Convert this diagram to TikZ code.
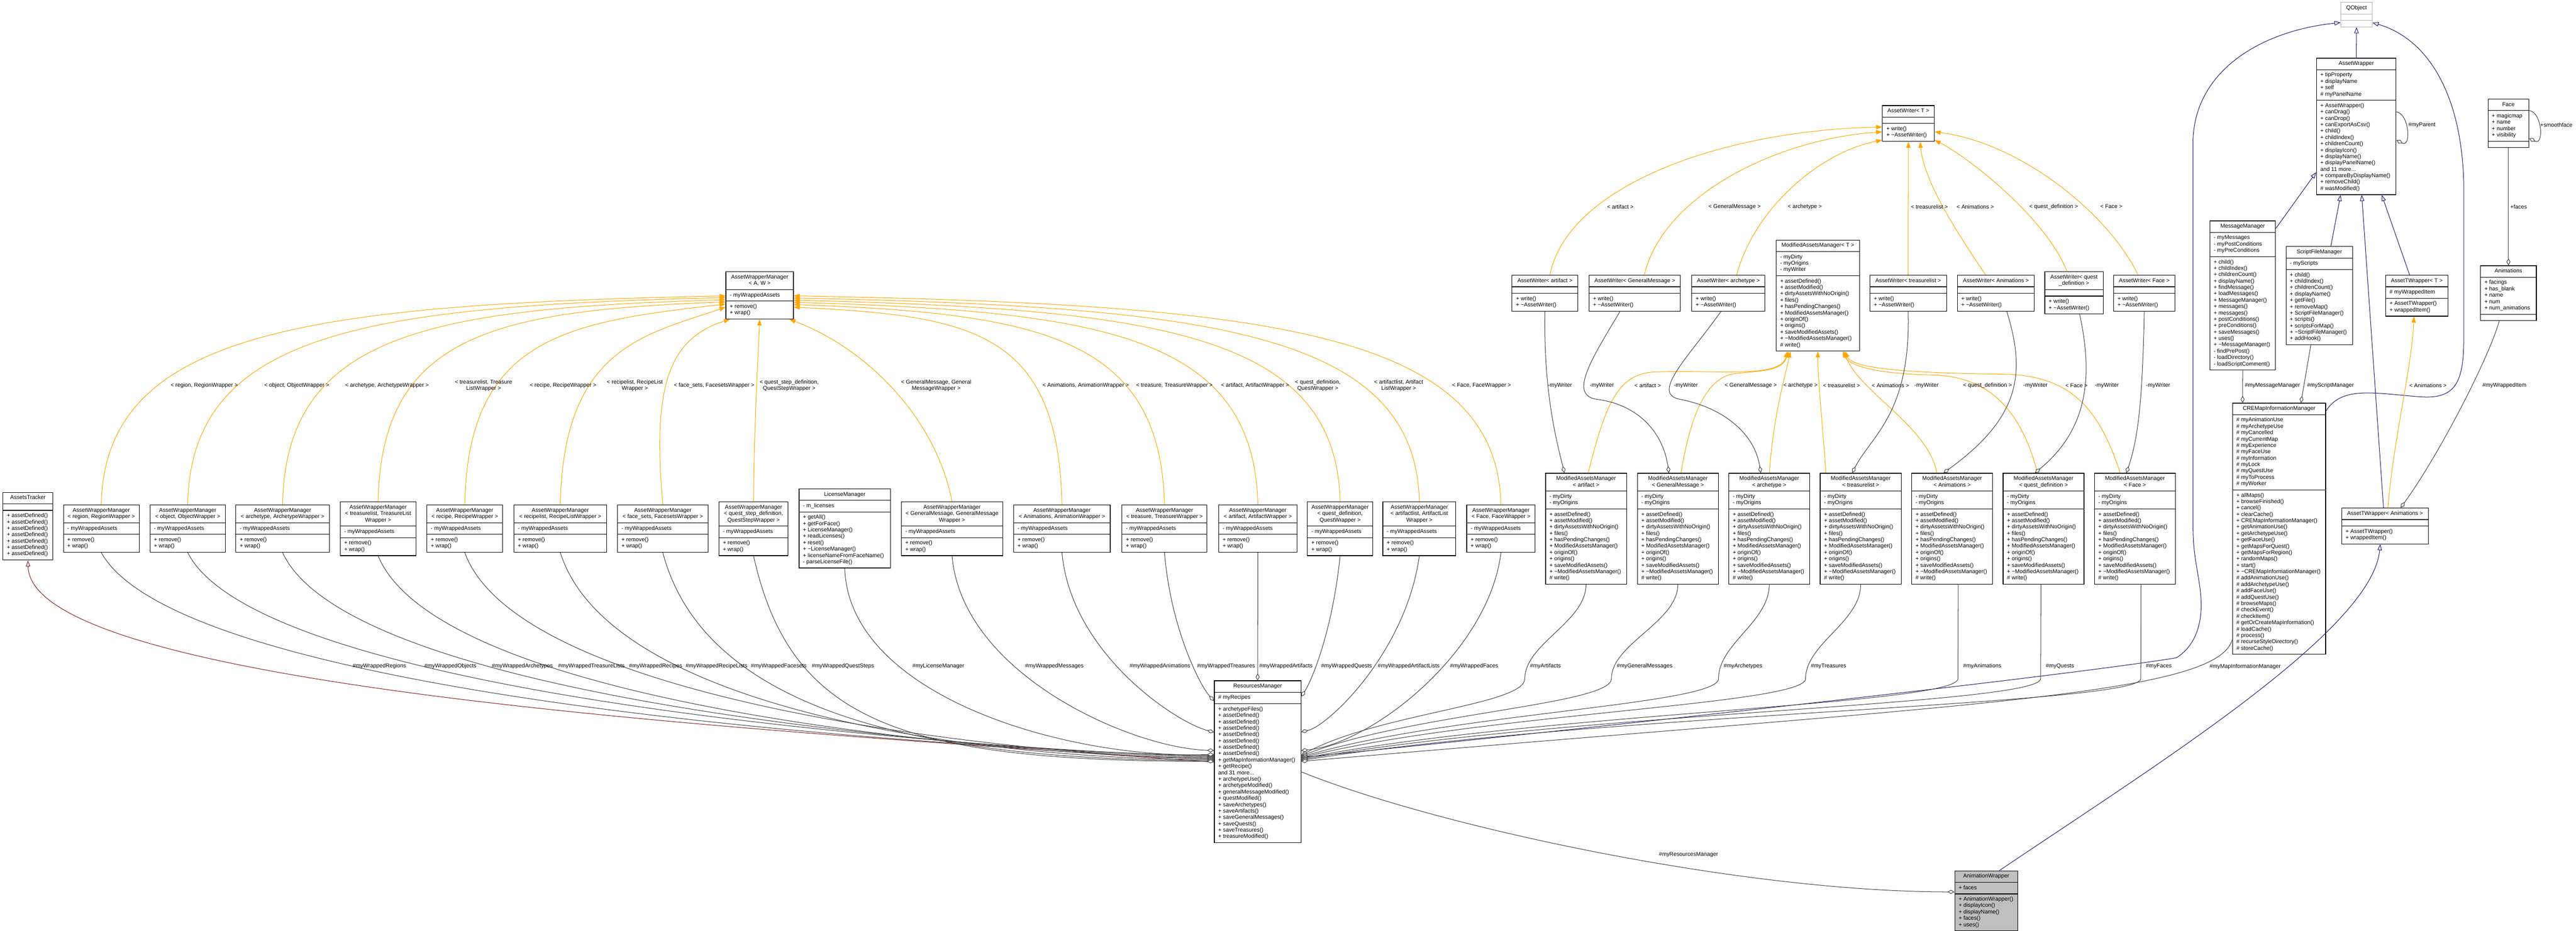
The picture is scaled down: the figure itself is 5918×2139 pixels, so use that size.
\documentclass[tikz,border=0pt]{standalone}
\usepackage{fontspec}
\setmainfont{Liberation Sans}
\usetikzlibrary{shapes.multipart,arrows.meta}

\definecolor{edgegray}{HTML}{404040}
\definecolor{tplorange}{HTML}{FFA500}
\definecolor{inhblue}{HTML}{191970}
\definecolor{privred}{HTML}{8B1A1A}

\newcommand{\tld}{\textasciitilde}
\newcommand{\awmops}{+ remove()\\+ wrap()}
\newcommand{\writerops}{+ write()\\+ \tld AssetWriter()}
\newcommand{\mamops}{+ assetDefined()\\+ assetModified()\\+ dirtyAssetsWithNoOrigin()\\+ files()\\+ hasPendingChanges()\\+ ModifiedAssetsManager()\\+ originOf()\\+ origins()\\+ saveModifiedAssets()\\+ \tld ModifiedAssetsManager()\\\# write()}
\newcommand{\umlclass}[6][]{%
  \node[classbox,#1] (#2) at (#3)
    {\begin{tabular}{@{}c@{}}#4\end{tabular}%
     \nodepart{second}\begin{tabular}{@{}l@{}}#5\end{tabular}%
     \nodepart{third}\begin{tabular}{@{}l@{}}#6\end{tabular}};}

\tikzset{
  classbox/.style={rectangle split, rectangle split parts=3,
    rectangle split part align={center,left,left},
    draw=black, line width=1.4pt, fill=white, anchor=north west,
    inner xsep=9pt, inner ysep=5.2pt,
    font=\fontsize{12.8}{14.65}\selectfont},
  lbl/.style={font=\fontsize{12.8}{14.3}\selectfont, inner sep=0pt, anchor=west, align=center},
  aggr/.style={draw=edgegray, line width=1.2pt, -{Diamond[length=16pt,width=9pt,fill=white]}},
  inherit/.style={draw=inhblue, line width=1.2pt, -{Triangle[length=14pt,width=10pt,fill=white]}},
  privinherit/.style={draw=privred, line width=1.2pt, -{Triangle[length=14pt,width=10pt,fill=white]}},
  tmpl/.style={draw=tplorange, line width=1.2pt, -{Triangle[length=14pt,width=10pt]}},
}

\begin{document}
\begin{tikzpicture}[x=1pt,y=-1pt]
\useasboundingbox (0,0) rectangle (5918,2139);
\fill[white] (0,0) rectangle (5918,2139);

% Qt side
\umlclass[minimum width=72pt, draw=black!30]{qobject}{5377,5}{QObject}{}{}
\umlclass[minimum width=183pt]{assetWrapper}{5321,133}{AssetWrapper}{+ tipProperty\\+ displayName\\+ self\\\# myPanelName}{+ AssetWrapper()\\+ canDrag()\\+ canDrop()\\+ canExportAsCsv()\\+ child()\\+ childIndex()\\+ childrenCount()\\+ displayIcon()\\+ displayName()\\+ displayPanelName()\\and 11 more...\\+ compareByDisplayName()\\+ removeChild()\\\# wasModified()}
\umlclass[minimum width=94pt]{face}{5715,227}{Face}{+ magicmap\\+ name\\+ number\\+ visibility}{}
\umlclass[minimum width=151pt]{msgMgr}{5076,507}{MessageManager}{- myMessages\\- myPostConditions\\- myPreConditions}{+ child()\\+ childIndex()\\+ childrenCount()\\+ displayName()\\+ findMessage()\\+ loadMessages()\\+ MessageManager()\\+ messages()\\+ messages()\\+ postConditions()\\+ preConditions()\\+ saveMessages()\\+ uses()\\+ \tld MessageManager()\\- findPrePost()\\- loadDirectory()\\- loadScriptComment()}
\umlclass[minimum width=153pt]{scriptMgr}{5251,566}{ScriptFileManager}{- myScripts}{+ child()\\+ childIndex()\\+ childrenCount()\\+ displayName()\\+ getFile()\\+ removeMap()\\+ ScriptFileManager()\\+ scripts()\\+ scriptsForMap()\\+ \tld ScriptFileManager()\\+ addHook()}
\umlclass[minimum width=143pt]{atwT}{5480,632}{AssetTWrapper< T >}{\# myWrappedItem}{+ AssetTWrapper()\\+ wrappedItem()}
\umlclass[minimum width=128pt]{animations}{5698,610}{Animations}{+ facings\\+ has\_blank\\+ name\\+ num\\+ num\_animations}{}
\umlclass[minimum width=214pt]{creMap}{5128,926}{CREMapInformationManager}{\# myAnimationUse\\\# myArchetypeUse\\\# myCancelled\\\# myCurrentMap\\\# myExperience\\\# myFaceUse\\\# myInformation\\\# myLock\\\# myQuestUse\\\# myToProcess\\\# myWorker}{+ allMaps()\\+ browseFinished()\\+ cancel()\\+ clearCache()\\+ CREMapInformationManager()\\+ getAnimationUse()\\+ getArchetypeUse()\\+ getFaceUse()\\+ getMapsForQuest()\\+ getMapsForRegion()\\+ randomMaps()\\+ start()\\+ \tld CREMapInformationManager()\\\# addAnimationUse()\\\# addArchetypeUse()\\\# addFaceUse()\\\# addQuestUse()\\\# browseMaps()\\\# checkEvent()\\\# checkItem()\\\# getOrCreateMapInformation()\\\# loadCache()\\\# process()\\\# recurseStyleDirectory()\\\# storeCache()}
\umlclass[minimum width=199pt]{atwAnim}{5379,1167}{AssetTWrapper< Animations >}{}{+ AssetTWrapper()\\+ wrappedItem()}

% Writers
\umlclass[minimum width=119pt]{writerT}{4324,242}{AssetWriter< T >}{}{\writerops}
\umlclass[minimum width=151pt]{writerArtifact}{3473,632}{AssetWriter< artifact >}{}{\writerops}
\umlclass[minimum width=210pt]{writerMessage}{3650,632}{AssetWriter< GeneralMessage >}{}{\writerops}
\umlclass[minimum width=168pt]{writerArchetype}{3886,632}{AssetWriter< archetype >}{}{\writerops}
\umlclass[minimum width=176pt]{writerTreasure}{4295,632}{AssetWriter< treasurelist >}{}{\writerops}
\umlclass[minimum width=177pt]{writerAnimation}{4496,632}{AssetWriter< Animations >}{}{\writerops}
\umlclass[minimum width=134pt]{writerQuest}{4697,624}{AssetWriter< quest\\\_definition >}{}{\writerops}
\umlclass[minimum width=141pt]{writerFace}{4855,632}{AssetWriter< Face >}{}{\writerops}

% Modified assets managers
\umlclass[minimum width=191pt]{mamT}{4080,551}{ModifiedAssetsManager< T >}{- myDirty\\- myOrigins\\- myWriter}{\mamops}
\umlclass[minimum width=186pt]{mamArtifact}{3550,1087}{ModifiedAssetsManager\\< artifact >}{- myDirty\\- myOrigins}{\mamops}
\umlclass[minimum width=186pt]{mamMessage}{3761,1087}{ModifiedAssetsManager\\< GeneralMessage >}{- myDirty\\- myOrigins}{\mamops}
\umlclass[minimum width=186pt]{mamArchetype}{3971,1087}{ModifiedAssetsManager\\< archetype >}{- myDirty\\- myOrigins}{\mamops}
\umlclass[minimum width=186pt]{mamTreasure}{4181,1087}{ModifiedAssetsManager\\< treasurelist >}{- myDirty\\- myOrigins}{\mamops}
\umlclass[minimum width=186pt]{mamAnimation}{4391,1087}{ModifiedAssetsManager\\< Animations >}{- myDirty\\- myOrigins}{\mamops}
\umlclass[minimum width=186pt]{mamQuest}{4601,1087}{ModifiedAssetsManager\\< quest\_definition >}{- myDirty\\- myOrigins}{\mamops}
\umlclass[minimum width=186pt]{mamFace}{4811,1087}{ModifiedAssetsManager\\< Face >}{- myDirty\\- myOrigins}{\mamops}

% Wrapper managers
\umlclass[minimum width=155pt]{awmAW}{1667,624}{AssetWrapperManager\\< A, W >}{- myWrappedAssets}{\awmops}
\umlclass[minimum width=174pt]{awmRegion}{145,1160}{AssetWrapperManager\\< region, RegionWrapper >}{- myWrappedAssets}{\awmops}
\umlclass[minimum width=173pt]{awmObject}{344,1160}{AssetWrapperManager\\< object, ObjectWrapper >}{- myWrappedAssets}{\awmops}
\umlclass[minimum width=215pt]{awmArchetype}{541,1160}{AssetWrapperManager\\< archetype, ArchetypeWrapper >}{- myWrappedAssets}{\awmops}
\umlclass[minimum width=174pt]{awmTreasureList}{781,1153}{AssetWrapperManager\\< treasurelist, TreasureList\\Wrapper >}{- myWrappedAssets}{\awmops}
\umlclass[minimum width=174pt]{awmRecipe}{980,1160}{AssetWrapperManager\\< recipe, RecipeWrapper >}{- myWrappedAssets}{\awmops}
\umlclass[minimum width=213pt]{awmRecipeList}{1180,1160}{AssetWrapperManager\\< recipelist, RecipeListWrapper >}{- myWrappedAssets}{\awmops}
\umlclass[minimum width=208pt]{awmFacesets}{1418,1160}{AssetWrapperManager\\< face\_sets, FacesetsWrapper >}{- myWrappedAssets}{\awmops}
\umlclass[minimum width=159pt]{awmQuestStep}{1651,1153}{AssetWrapperManager\\< quest\_step\_definition,\\QuestStepWrapper >}{- myWrappedAssets}{\awmops}
\umlclass[minimum width=233pt]{awmMessage}{2070,1153}{AssetWrapperManager\\< GeneralMessage, GeneralMessage\\Wrapper >}{- myWrappedAssets}{\awmops}
\umlclass[minimum width=222pt]{awmAnimation}{2328,1160}{AssetWrapperManager\\< Animations, AnimationWrapper >}{- myWrappedAssets}{\awmops}
\umlclass[minimum width=195pt]{awmTreasure}{2577,1160}{AssetWrapperManager\\< treasure, TreasureWrapper >}{- myWrappedAssets}{\awmops}
\umlclass[minimum width=180pt]{awmArtifact}{2799,1160}{AssetWrapperManager\\< artifact, ArtifactWrapper >}{- myWrappedAssets}{\awmops}
\umlclass[minimum width=150pt]{awmQuest}{3003,1153}{AssetWrapperManager\\< quest\_definition,\\QuestWrapper >}{- myWrappedAssets}{\awmops}
\umlclass[minimum width=168pt]{awmArtifactList}{3176,1153}{AssetWrapperManager\\< artifactlist, ArtifactList\\Wrapper >}{- myWrappedAssets}{\awmops}
\umlclass[minimum width=157pt]{awmFace}{3369,1160}{AssetWrapperManager\\< Face, FaceWrapper >}{- myWrappedAssets}{\awmops}

% Others
\umlclass[minimum width=210pt]{license}{1835,1123}{LicenseManager}{- m\_licenses}{+ getAll()\\+ getForFace()\\+ LicenseManager()\\+ readLicenses()\\+ reset()\\+ \tld LicenseManager()\\+ licenseNameFromFaceName()\\- parseLicenseFile()}
\umlclass[minimum width=115pt]{tracker}{6,1131}{AssetsTracker}{}{+ assetDefined()\\+ assetDefined()\\+ assetDefined()\\+ assetDefined()\\+ assetDefined()\\+ assetDefined()\\+ assetDefined()}
\umlclass[minimum width=199pt]{resMgr}{2789,1564}{ResourcesManager}{\# myRecipes}{+ archetypeFiles()\\+ assetDefined()\\+ assetDefined()\\+ assetDefined()\\+ assetDefined()\\+ assetDefined()\\+ assetDefined()\\+ assetDefined()\\+ getMapInformationManager()\\+ getRecipe()\\and 31 more...\\+ archetypeUse()\\+ archetypeModified()\\+ generalMessageModified()\\+ questModified()\\+ saveArchetypes()\\+ saveArtifacts()\\+ saveGeneralMessages()\\+ saveQuests()\\+ saveTreasures()\\+ treasureModified()}
\umlclass[minimum width=145pt, fill=black!25]{animWrapper}{4490,2001}{AnimationWrapper}{+ faces}{+ AnimationWrapper()\\+ displayIcon()\\+ displayName()\\+ faces()\\+ uses()}

% Inheritance
\draw[inherit] (assetWrapper.north) -- (qobject.south);
\draw[inherit] ([yshift=-18pt]msgMgr.north east) -- ([yshift=-263pt]assetWrapper.north west);
\draw[inherit] ([xshift=26.5pt]scriptMgr.north) -- ([xshift=-36pt]assetWrapper.south);
\draw[inherit] ([xshift=-16.5pt]atwT.north) -- ([xshift=58.5pt]assetWrapper.south);
\draw[inherit] ([xshift=-3.5pt]atwAnim.north) -- ([xshift=12.5pt]assetWrapper.south);
\draw[inherit] ([yshift=-19pt]creMap.north east) .. controls (5380,885) and (5460,905) .. (5560,912) .. controls (5640,918) and (5660,880) .. (5660,780) -- (5660,420) .. controls (5655,220) and (5580,90) .. ([yshift=-47pt]qobject.north east);
\draw[inherit] ([yshift=-177pt]resMgr.north east) .. controls (3600,1680) and (4700,1560) .. (5000,1512) .. controls (5050,1480) and (5062,1420) .. (5055,1360) .. controls (5048,1300) and (5038,1280) .. (5038,1200) -- (5038,330) .. controls (5038,160) and (5200,70) .. ([yshift=-47pt]qobject.north west);
\draw[inherit] ([xshift=30pt]animWrapper.north) .. controls (4950,1760) and (5450,1450) .. ([xshift=-11pt]atwAnim.south);
\draw[privinherit] ([yshift=-188pt]resMgr.north west) .. controls (2000,1692) and (70,1600) .. (tracker.south);

% Members, top right
\draw[aggr] ([yshift=-124pt]assetWrapper.north east) .. controls (5535,262) and (5540,340) .. ([yshift=-189pt]assetWrapper.north east);
\draw[aggr] ([yshift=-27pt]face.north east) .. controls (5840,258) and (5845,335) .. ([yshift=-91pt]face.north east);
\draw[aggr] (face.south) -- (animations.north);
\draw[aggr] ([xshift=-21pt]animations.south) .. controls (5715,830) and (5600,1050) .. ([xshift=36pt]atwAnim.north);
\draw[aggr] (msgMgr.south) -- ([xshift=24pt]creMap.north west);
\draw[aggr] ([xshift=-19.5pt]scriptMgr.south) -- ([xshift=158pt]creMap.north west);
\draw[tmpl] ([xshift=6.5pt]atwAnim.north) .. controls (5500,1000) and (5540,850) .. ([xshift=-6.5pt]atwT.south);
\node[lbl] (lParent) at (5533,287) {\#myParent};
\node[lbl] (lSmooth) at (5836,287) {+smoothface};
\node[lbl] (lFaces) at (5767,475) {+faces};
\node[lbl] (lItem) at (5703,886) {\#myWrappedItem};
\node[lbl] (lAnimT) at (5535,886) {< Animations >};
\node[lbl] (lMsgMgr) at (5157,886) {\#myMessageManager};
\node[lbl] (lScrMgr) at (5300,886) {\#myScriptManager};

% AssetWriter templates
\draw[tmpl] ([xshift=11.5pt]writerArtifact.north) .. controls (3600,430) and (3950,300) .. ([yshift=-50pt]writerT.north west);
\draw[tmpl] ([xshift=22pt]writerMessage.north) .. controls (3820,450) and (4080,320) .. ([yshift=-61pt]writerT.north west);
\draw[tmpl] ([xshift=19pt]writerArchetype.north) .. controls (4030,480) and (4180,350) .. ([yshift=-80pt]writerT.north west);
\draw[tmpl] (writerTreasure.north) -- (writerT.south);
\draw[tmpl] ([xshift=-23.5pt]writerAnimation.north) .. controls (4500,540) and (4420,420) .. ([xshift=27pt]writerT.south);
\draw[tmpl] ([xshift=-16pt]writerQuest.north) .. controls (4700,500) and (4520,360) .. ([yshift=-80pt]writerT.north east);
\draw[tmpl] ([xshift=-14.5pt]writerFace.north) .. controls (4850,500) and (4650,330) .. ([yshift=-61pt]writerT.north east);
\node[lbl] (wArtifact) at (3692,475) {< artifact >};
\node[lbl] (wMessage) at (3925,475) {< GeneralMessage >};
\node[lbl] (wArchetype) at (4107,475) {< archetype >};
\node[lbl] (wTreasure) at (4390,475) {< treasurelist >};
\node[lbl] (wAnimation) at (4495,475) {< Animations >};
\node[lbl] (wQuest) at (4662,475) {< quest\_definition >};
\node[lbl] (wFace) at (4825,475) {< Face >};

% ModifiedAssetsManager templates
\draw[tmpl] ([xshift=5pt]mamArtifact.north) .. controls (3690,920) and (3720,860) .. (3800,855) .. controls (3950,850) and (4090,870) .. ([xshift=-70pt]mamT.south);
\draw[tmpl] ([xshift=7pt]mamMessage.north) .. controls (3885,950) and (3920,865) .. (3990,858) .. controls (4060,852) and (4095,850) .. ([xshift=-67pt]mamT.south);
\draw[tmpl] (mamArchetype.north) .. controls (4075,950) and (4100,870) .. ([xshift=-63pt]mamT.south);
\draw[tmpl] ([xshift=-80pt]mamTreasure.north) .. controls (4185,950) and (4176,870) .. (mamT.south);
\draw[tmpl] ([xshift=-35pt]mamAnimation.north) .. controls (4430,980) and (4270,900) .. ([xshift=60pt]mamT.south);
\draw[tmpl] ([xshift=-14pt]mamQuest.north) .. controls (4640,930) and (4560,865) .. (4440,862) .. controls (4330,860) and (4250,845) .. ([xshift=57pt]mamT.south);
\draw[tmpl] ([xshift=-34pt]mamFace.north) .. controls (4820,930) and (4750,862) .. (4600,860) .. controls (4420,858) and (4255,850) .. ([xshift=63pt]mamT.south);
\node[lbl] (mArtifact) at (3755,886) {< artifact >};
\node[lbl] (mMessage) at (3962,886) {< GeneralMessage >};
\node[lbl] (mArchetype) at (4097,886) {< archetype >};
\node[lbl] (mTreasure) at (4188,886) {< treasurelist >};
\node[lbl] (mAnimation) at (4300,886) {< Animations >};
\node[lbl] (mQuest) at (4510,886) {< quest\_definition >};
\node[lbl] (mFace) at (4745,886) {< Face >};

% Writers held by the managers
\draw[aggr] (writerArtifact.south) .. controls (3546,900) and (3575,1010) .. ([xshift=44pt]mamArtifact.north west);
\draw[aggr] ([xshift=-34pt]writerMessage.south) .. controls (3660,820) and (3600,910) .. (3670,918) .. controls (3760,930) and (3820,990) .. ([xshift=73pt]mamMessage.north west);
\draw[aggr] ([xshift=-17pt]writerArchetype.south) .. controls (3880,820) and (3790,905) .. (3860,918) .. controls (3950,935) and (4030,990) .. ([xshift=74pt]mamArchetype.north west);
\draw[aggr] (writerTreasure.south) .. controls (4390,950) and (4300,1000) .. ([xshift=74pt]mamTreasure.north west);
\draw[aggr] ([xshift=25pt]writerAnimation.south) .. controls (4655,860) and (4640,960) .. ([xshift=74pt]mamAnimation.north west);
\draw[aggr] ([xshift=13pt]writerQuest.south) .. controls (4805,850) and (4805,980) .. ([xshift=74pt]mamQuest.north west);
\draw[aggr] (writerFace.south) .. controls (4922,900) and (4915,1000) .. ([xshift=74pt]mamFace.north west);
\node[lbl] (yArtifact) at (3556,886) {-myWriter};
\node[lbl] (yMessage) at (3652,886) {-myWriter};
\node[lbl] (yArchetype) at (3845,886) {-myWriter};
\node[lbl] (yTreasure) at (4398,886) {-myWriter};
\node[lbl] (yAnimation) at (4648,886) {-myWriter};
\node[lbl] (yQuest) at (4812,886) {-myWriter};
\node[lbl] (yFace) at (4930,886) {-myWriter};

% AssetWrapperManager templates
\draw[tmpl] (awmRegion.north) .. controls (240,762) and (706,700) .. ([yshift=-56pt]awmAW.north west);
\draw[tmpl] (awmObject.north) .. controls (438,765) and (838,704) .. ([yshift=-60pt]awmAW.north west);
\draw[tmpl] (awmArchetype.north) .. controls (656,769) and (984,709) .. ([yshift=-65pt]awmAW.north west);
\draw[tmpl] (awmTreasureList.north) .. controls (876,772) and (1132,714) .. ([yshift=-70pt]awmAW.north west);
\draw[tmpl] (awmRecipe.north) .. controls (1075,777) and (1300,740) .. ([yshift=-75pt]awmAW.north west);
\draw[tmpl] (awmRecipeList.north) .. controls (1294,800) and (1480,770) .. ([yshift=-82pt]awmAW.north west);
\draw[tmpl] (awmFacesets.north) .. controls (1500,900) and (1530,780) .. ([xshift=10pt]awmAW.south west);
\draw[tmpl] (awmQuestStep.north) .. controls (1733,950) and (1742,820) .. (awmAW.south);
\draw[tmpl] (awmMessage.north) .. controls (2150,960) and (1990,800) .. ([xshift=-10pt]awmAW.south east);
\draw[tmpl] (awmAnimation.north) .. controls (2431,762) and (2235,726) .. ([yshift=-82pt]awmAW.north east);
\draw[tmpl] (awmTreasure.north) .. controls (2666,778) and (2393,720) .. ([yshift=-76pt]awmAW.north east);
\draw[tmpl] (awmArtifact.north) .. controls (2881,774) and (2537,715) .. ([yshift=-71pt]awmAW.north east);
\draw[tmpl] (awmQuest.north) .. controls (3070,769) and (2664,710) .. ([yshift=-66pt]awmAW.north east);
\draw[tmpl] (awmArtifactList.north) .. controls (3252,765) and (2785,705) .. ([yshift=-61pt]awmAW.north east);
\draw[tmpl] (awmFace.north) .. controls (3439,762) and (2911,700) .. ([yshift=-56pt]awmAW.north east);
\node[lbl] (tRegion) at (392,886) {< region, RegionWrapper >};
\node[lbl] (tObject) at (607,886) {< object, ObjectWrapper >};
\node[lbl] (tArchetype) at (793,886) {< archetype, ArchetypeWrapper >};
\node[lbl] (tTreasureList) at (1045,886) {< treasurelist, Treasure\\ListWrapper >};
\node[lbl] (tRecipe) at (1217,886) {< recipe, RecipeWrapper >};
\node[lbl] (tRecipeList) at (1394,886) {< recipelist, RecipeList\\Wrapper >};
\node[lbl] (tFacesets) at (1548,886) {< face\_sets, FacesetsWrapper >};
\node[lbl] (tQuestStep) at (1745,886) {< quest\_step\_definition,\\QuestStepWrapper >};
\node[lbl] (tMessage) at (2070,886) {< GeneralMessage, General\\MessageWrapper >};
\node[lbl] (tAnimation) at (2395,886) {< Animations, AnimationWrapper >};
\node[lbl] (tTreasure) at (2610,886) {< treasure, TreasureWrapper >};
\node[lbl] (tArtifact) at (2805,886) {< artifact, ArtifactWrapper >};
\node[lbl] (tQuest) at (2975,886) {< quest\_definition,\\QuestWrapper >};
\node[lbl] (tArtifactList) at (3157,886) {< artifactlist, Artifact\\ListWrapper >};
\node[lbl] (tFace) at (3336,886) {< Face, FaceWrapper >};

% Members of ResourcesManager
\draw[aggr] (awmRegion.south) .. controls (437,1642) and (2528,1736) .. ([yshift=-172pt]resMgr.north west);
\draw[aggr] (awmObject.south) .. controls (619,1643) and (2605,1738) .. ([yshift=-174pt]resMgr.north west);
\draw[aggr] (awmArchetype.south) .. controls (820,1645) and (2545,1740) .. ([yshift=-176pt]resMgr.north west);
\draw[aggr] (awmTreasureList.south) .. controls (1022,1648) and (2464,1742) .. ([yshift=-178pt]resMgr.north west);
\draw[aggr] (awmRecipe.south) .. controls (1205,1648) and (2529,1744) .. ([yshift=-180pt]resMgr.north west);
\draw[aggr] (awmRecipeList.south) .. controls (1407,1650) and (2323,1746) .. ([yshift=-182pt]resMgr.north west);
\draw[aggr] (awmFacesets.south) .. controls (1623,1651) and (2162,1748) .. ([yshift=-184pt]resMgr.north west);
\draw[aggr] (awmQuestStep.south) .. controls (1815,1654) and (2060,1750) .. ([yshift=-186pt]resMgr.north west);
\draw[aggr] (license.south) .. controls (1950,1600) and (2450,1745) .. ([yshift=-170pt]resMgr.north west);
\draw[aggr] (awmMessage.south) .. controls (2210,1550) and (2600,1720) .. ([yshift=-161pt]resMgr.north west);
\draw[aggr] (awmAnimation.south) .. controls (2460,1500) and (2700,1660) .. ([yshift=-119pt]resMgr.north west);
\draw[aggr] (awmTreasure.south) .. controls (2690,1450) and (2760,1580) .. ([yshift=-47pt]resMgr.north west);
\draw[aggr] (awmArtifact.south) -- (resMgr.north);
\draw[aggr] (awmQuest.south) .. controls (3060,1460) and (3010,1570) .. ([yshift=-37pt]resMgr.north east);
\draw[aggr] (awmArtifactList.south) .. controls (3230,1500) and (3050,1670) .. ([yshift=-118pt]resMgr.north east);
\draw[aggr] (awmFace.south) .. controls (3420,1500) and (3150,1710) .. ([yshift=-161pt]resMgr.north east);
\draw[aggr] (mamArtifact.south) .. controls (3643,1430) and (3503,1480) .. (3503,1560) .. controls (3503,1620) and (3168,1640) .. ([yshift=-172pt]resMgr.north east);
\draw[aggr] (mamMessage.south) .. controls (3854,1430) and (3702,1480) .. (3702,1560) .. controls (3702,1620) and (3238,1640) .. ([yshift=-174pt]resMgr.north east);
\draw[aggr] (mamArchetype.south) .. controls (4064,1430) and (3948,1480) .. (3948,1560) .. controls (3948,1620) and (3324,1640) .. ([yshift=-176pt]resMgr.north east);
\draw[aggr] (mamTreasure.south) .. controls (4274,1430) and (4148,1480) .. (4148,1560) .. controls (4148,1620) and (3394,1640) .. ([yshift=-178pt]resMgr.north east);
\draw[aggr] ([xshift=14pt]mamAnimation.south) -- (4498,1560) .. controls (4498,1620) and (3516,1640) .. ([yshift=-180pt]resMgr.north east);
\draw[aggr] ([xshift=-6pt]mamQuest.south) -- (4688,1560) .. controls (4688,1620) and (3583,1640) .. ([yshift=-182pt]resMgr.north east);
\draw[aggr] ([xshift=14pt]mamFace.south) -- (4918,1560) .. controls (4918,1620) and (3663,1640) .. ([yshift=-184pt]resMgr.north east);
\draw[aggr] ([yshift=-545pt]creMap.north west) .. controls (5090,1600) and (4500,1620) .. ([yshift=-186pt]resMgr.north east);
\draw[aggr] ([yshift=-210pt]resMgr.north east) .. controls (3300,1900) and (4000,2050) .. ([yshift=-49pt]animWrapper.north west);
\node[lbl] (rRegion) at (810,1531) {\#myWrappedRegions};
\node[lbl] (rObject) at (975,1531) {\#myWrappedObjects};
\node[lbl] (rArchetype) at (1130,1531) {\#myWrappedArchetypes};
\node[lbl] (rTreasureList) at (1282,1531) {\#myWrappedTreasureLists};
\node[lbl] (rRecipe) at (1445,1531) {\#myWrappedRecipes};
\node[lbl] (rRecipeList) at (1575,1531) {\#myWrappedRecipeLists};
\node[lbl] (rFacesets) at (1725,1531) {\#myWrappedFacesets};
\node[lbl] (rQuestStep) at (1865,1531) {\#myWrappedQuestSteps};
\node[lbl] (rLicense) at (2096,1531) {\#myLicenseManager};
\node[lbl] (rMessage) at (2355,1531) {\#myWrappedMessages};
\node[lbl] (rAnimation) at (2595,1531) {\#myWrappedAnimations};
\node[lbl] (rTreasure) at (2750,1531) {\#myWrappedTreasures};
\node[lbl] (rArtifact) at (2893,1531) {\#myWrappedArtifacts};
\node[lbl] (rQuest) at (3035,1531) {\#myWrappedQuests};
\node[lbl] (rArtifactList) at (3165,1531) {\#myWrappedArtifactLists};
\node[lbl] (rFace) at (3331,1531) {\#myWrappedFaces};
\node[lbl] (sArtifact) at (3515,1531) {\#myArtifacts};
\node[lbl] (sMessage) at (3714,1531) {\#myGeneralMessages};
\node[lbl] (sArchetype) at (3960,1531) {\#myArchetypes};
\node[lbl] (sTreasure) at (4160,1531) {\#myTreasures};
\node[lbl] (sAnimation) at (4510,1531) {\#myAnimations};
\node[lbl] (sQuest) at (4700,1531) {\#myQuests};
\node[lbl] (sFace) at (4930,1531) {\#myFaces};
\node[lbl] (sMapInfo) at (5076,1532) {\#myMapInformationManager};
\node[lbl] (sResMgr) at (3811,1965) {\#myResourcesManager};
\end{tikzpicture}
\end{document}
